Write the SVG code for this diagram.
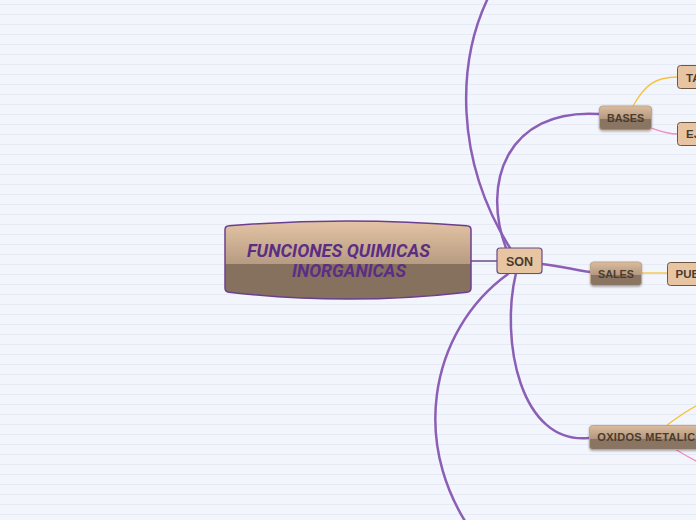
<svg xmlns="http://www.w3.org/2000/svg" width="696" height="520" viewBox="0 0 696 520">
<defs>
<pattern id="bgl" width="696" height="10" patternUnits="userSpaceOnUse" y="0">
<rect width="696" height="10" fill="#f3f5fd"/>
<rect y="4" width="696" height="1" fill="#e6eaf5"/>
</pattern>
<linearGradient id="mainG" x1="0" y1="0" x2="0" y2="1">
<stop offset="0" stop-color="#e4c4a4"/>
<stop offset="0.55" stop-color="#b79b82"/>
<stop offset="0.55" stop-color="#86715f"/>
<stop offset="1" stop-color="#86715f"/>
</linearGradient>
<linearGradient id="subG" x1="0" y1="0" x2="0" y2="1">
<stop offset="0" stop-color="#dcbc9c"/>
<stop offset="0.55" stop-color="#b39780"/>
<stop offset="0.55" stop-color="#8a7462"/>
<stop offset="1" stop-color="#8a7462"/>
</linearGradient>
<filter id="sh" x="-20%" y="-30%" width="140%" height="160%">
<feDropShadow dx="0" dy="1" stdDeviation="1" flood-color="#000" flood-opacity="0.3"/>
</filter>
</defs>
<style>
.c{fill:none;stroke:#8c5fb6;stroke-width:2.5;stroke-linecap:round}
.y{fill:none;stroke:#f6c23e;stroke-width:1.3}
.p{fill:none;stroke:#f08dc2;stroke-width:1.3}
.lt{fill:#e7c5a3;stroke:#6e5642;stroke-width:1}
.sub{fill:url(#subG);stroke:#bfa58c;stroke-width:1;filter:url(#sh)}
.t{font-family:"Liberation Sans",Arial,sans-serif;font-weight:bold;fill:#4b3c2d}
.h{font-family:Roboto,"Liberation Sans",sans-serif;font-size:18px;font-weight:bold;font-style:italic;fill:#5b2e84}
</style>
<rect width="696" height="520" fill="url(#bgl)"/>
<g id="connectors">
<line x1="471" y1="261" x2="497" y2="261" stroke="#6a4a8a" stroke-width="1.5"/>
<path class="c" d="M510,248 C455,160 455,60 492,-10"/>
<path class="c" d="M506,248 C482,185 505,108 599,114"/>
<path class="c" d="M542,264 C560,266 575,270 590,272"/>
<path class="c" d="M516,273 C500,340 520,445 589,438"/>
<path class="c" d="M508,274 C430,330 405,450 482,545"/>
<path class="y" d="M633,106 C645,85 655,77 677,77"/>
<path class="p" d="M651,128 C660,131 668,134 677,134"/>
<path class="y" d="M641,273 L667,273"/>
<path class="y" d="M667,425 C678,417 688,410 698,405"/>
<path class="p" d="M675,449 C683,454 690,458 698,462"/>
</g>
<g id="main">
<path d="M225,230 Q225,226 229,225.8 Q348,216 467,225.8 Q471,226 471,230 L471,288 Q471,292 467,292.2 Q348,306 229,292.2 Q225,292 225,288 Z" fill="url(#mainG)" stroke="#6b3f8d" stroke-width="1.5"/>
<text class="h" x="247" y="257" textLength="183" lengthAdjust="spacingAndGlyphs">FUNCIONES QUIMICAS</text>
<text class="h" x="292" y="277" textLength="114" lengthAdjust="spacingAndGlyphs">INORGANICAS</text>
</g>
<g id="son">
<rect x="497" y="248" width="45" height="25.5" rx="3" fill="#e7c5a3" stroke="#6b4a85" stroke-width="1.2"/>
<text class="t" x="519.5" y="266" font-size="12.5" text-anchor="middle">SON</text>
</g>
<g id="bases">
<rect class="sub" x="599.5" y="106" width="52" height="24" rx="3"/>
<text class="t" x="625.5" y="121.7" font-size="10.8" text-anchor="middle">BASES</text>
</g>
<g id="ta">
<rect class="lt" x="677.5" y="65.5" width="30" height="23" rx="3"/>
<text class="t" x="686" y="81.5" font-size="11.5">TA</text>
</g>
<g id="ej">
<rect class="lt" x="677.5" y="122.5" width="30" height="23" rx="3"/>
<text class="t" x="686" y="138.3" font-size="11.5">EJ</text>
</g>
<g id="sales">
<rect class="sub" x="590.5" y="262" width="51" height="23.5" rx="3"/>
<text class="t" x="616" y="277.7" font-size="10.8" text-anchor="middle">SALES</text>
</g>
<g id="pub">
<rect class="lt" x="667.5" y="262.5" width="40" height="23" rx="3"/>
<text class="t" x="675.5" y="277.5" font-size="11.5">PUB</text>
</g>
<g id="oxidos">
<rect class="sub" x="589.5" y="425.5" width="125" height="24" rx="3"/>
<text class="t" x="597.3" y="441.3" font-size="11" letter-spacing="0.3">OXIDOS METALICOS</text>
</g>
</svg>
